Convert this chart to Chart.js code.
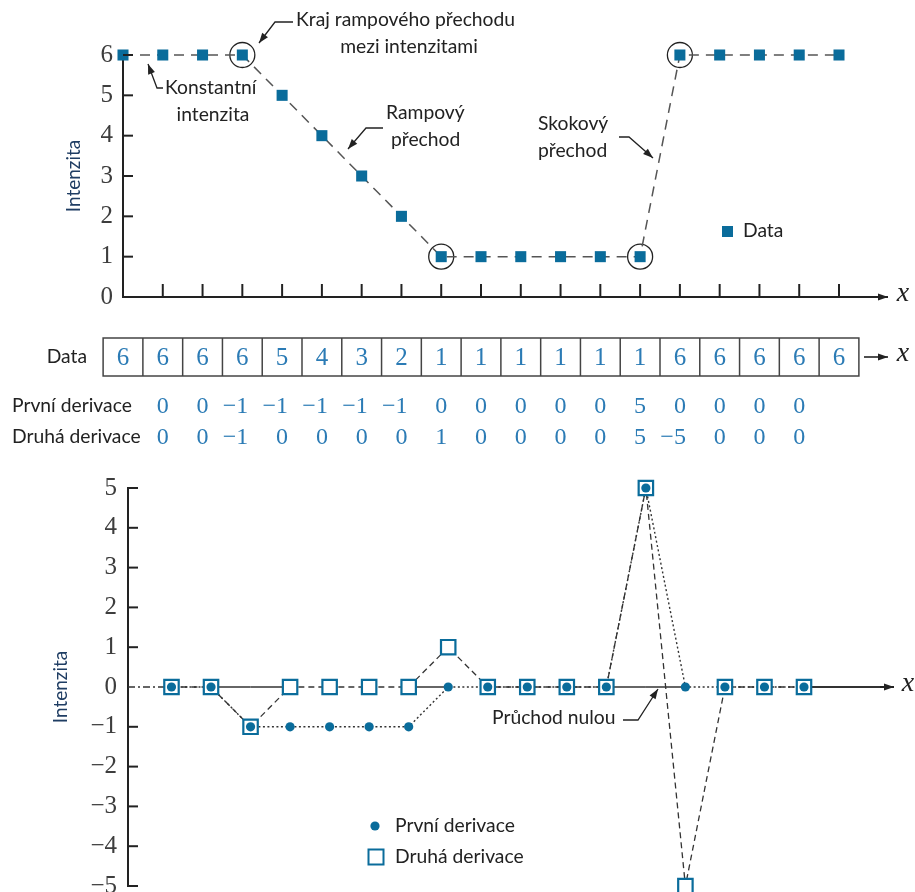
<!DOCTYPE html>
<html>
<head>
<meta charset="utf-8">
<script src="https://cdn.jsdelivr.net/npm/chart.js@4/dist/chart.umd.min.js"></script>
<style>
  html, body { margin: 0; padding: 0; background: #fff; overflow: hidden; }
  #wrap { position: relative; width: 915px; height: 892px; overflow: hidden; }
  #topChart { position: absolute; left: 0; top: 0; width: 915px; height: 460px; }
  #bottomChart { position: absolute; left: 0; top: 460px; width: 915px; height: 452px; }
</style>
</head>
<body>
<div id="wrap">
  <canvas id="topChart" width="915" height="460"></canvas>
  <canvas id="bottomChart" width="915" height="452"></canvas>
</div>
<script>
// Sample positions along x and the intensity profile
const columns = [0, 1, 2, 3, 4, 5, 6, 7, 8, 9, 10, 11, 12, 13, 14, 15, 16, 17, 18];
const intensity = [6, 6, 6, 6, 5, 4, 3, 2, 1, 1, 1, 1, 1, 1, 6, 6, 6, 6, 6];
// Samples marked with a circle (ends of the ramp, step)
const edgeColumns = [3, 8, 13, 14];

// Derivatives, defined for the inner samples
const derivColumns = [1, 2, 3, 4, 5, 6, 7, 8, 9, 10, 11, 12, 13, 14, 15, 16, 17];
const firstDerivative = [0, 0, -1, -1, -1, -1, -1, 0, 0, 0, 0, 0, 5, 0, 0, 0, 0];
const secondDerivative = [0, 0, -1, 0, 0, 0, 0, 1, 0, 0, 0, 0, 5, -5, 0, 0, 0];

// Axis tick values
const topTicks = [0, 1, 2, 3, 4, 5, 6];
const bottomTicks = [-5, -4, -3, -2, -1, 0, 1, 2, 3, 4, 5];

const BLUE = '#0a6c9b';
const NUM_BLUE = '#2b7bb5';
const INK = '#222';
const LINE_GRAY = '#555';
const SANS = 'Lato, "Open Sans", sans-serif';
const SERIF = '"Liberation Serif", "DejaVu Serif", serif';
const LABEL_FONT = '19.3px ' + SANS;

const fmt = v => String(v).replace('-', '\u2212');

function seg(ctx, x1, y1, x2, y2) {
  ctx.beginPath(); ctx.moveTo(x1, y1); ctx.lineTo(x2, y2); ctx.stroke();
}

// Polyline with a filled arrow head at its last point
function arrow(ctx, pts, width) {
  ctx.save();
  ctx.strokeStyle = INK; ctx.fillStyle = INK; ctx.lineWidth = width || 1.3;
  ctx.setLineDash([]);
  ctx.beginPath();
  ctx.moveTo(pts[0][0], pts[0][1]);
  for (let i = 1; i < pts.length; i++) ctx.lineTo(pts[i][0], pts[i][1]);
  ctx.stroke();
  const [tx, ty] = pts[pts.length - 1];
  const [px, py] = pts[pts.length - 2];
  const ang = Math.atan2(ty - py, tx - px);
  const L = 10, W = 3.6;
  ctx.beginPath();
  ctx.moveTo(tx, ty);
  ctx.lineTo(tx - L * Math.cos(ang) + W * Math.sin(ang), ty - L * Math.sin(ang) - W * Math.cos(ang));
  ctx.lineTo(tx - L * Math.cos(ang) - W * Math.sin(ang), ty - L * Math.sin(ang) + W * Math.cos(ang));
  ctx.closePath(); ctx.fill();
  ctx.restore();
}

function text(ctx, str, x, y, align, font, color) {
  ctx.save();
  ctx.font = font; ctx.fillStyle = color || INK;
  ctx.textAlign = align || 'left'; ctx.textBaseline = 'middle';
  ctx.fillText(str, x, y);
  ctx.restore();
}

// Signed number with its digits centred on the column
function numberAt(ctx, v, cx, y, font, color) {
  ctx.save();
  ctx.font = font; ctx.fillStyle = color; ctx.textBaseline = 'middle';
  const digits = String(Math.abs(v));
  const w = ctx.measureText(digits).width;
  ctx.textAlign = 'right';
  ctx.fillText(v < 0 ? '\u2212' + digits : digits, cx + w / 2, y);
  ctx.restore();
}

const topDecor = {
  id: 'topDecor',
  afterDraw(chart) {
    const { ctx, chartArea: a, scales: { x, y } } = chart;
    const y0 = y.getPixelForValue(0);
    ctx.save();
    ctx.strokeStyle = INK; ctx.lineWidth = 2;
    // x axis with arrow
    seg(ctx, a.left, y0, 880, y0);
    arrow(ctx, [[876, y0], [888, y0]], 2);
    columns.forEach(c => {
      if (c === 0) return;
      const px = x.getPixelForValue(c);
      seg(ctx, px, y0, px, y0 - 13);
    });
    topTicks.forEach(v => {
      if (v === 0) return;
      const py = y.getPixelForValue(v);
      seg(ctx, a.left, py, a.left + 10, py);
    });
    ctx.restore();
    text(ctx, 'x', 903, y0 - 3, 'center', 'italic 28px ' + SERIF, INK);

    // Annotations
    const f = LABEL_FONT;
    text(ctx, 'Kraj rampového přechodu', 296, 20, 'left', f);
    text(ctx, 'mezi intenzitami', 409, 47, 'center', f);
    arrow(ctx, [[293, 22], [275, 22], [259, 43]]);
    text(ctx, 'Konstantní', 165, 88, 'left', f);
    text(ctx, 'intenzita', 213, 115, 'center', f);
    arrow(ctx, [[163, 88], [157, 88], [148, 64]]);
    text(ctx, 'Rampový', 386, 113, 'left', f);
    text(ctx, 'přechod', 391, 140, 'left', f);
    arrow(ctx, [[383, 128], [366, 128], [348, 149]]);
    text(ctx, 'Skokový', 538, 124, 'left', f);
    text(ctx, 'přechod', 538, 151, 'left', f);
    arrow(ctx, [[619, 137], [629, 137], [653, 158]]);

    // Legend
    ctx.save();
    ctx.fillStyle = BLUE;
    ctx.fillRect(722, 226, 11, 11);
    ctx.restore();
    text(ctx, 'Data', 743, 231, 'left', f);

    // Data table under the plot, one cell per sample
    const half = (x.getPixelForValue(1) - x.getPixelForValue(0)) / 2;
    const rowTop = 338, rowBot = 376, rowMid = (rowTop + rowBot) / 2;
    ctx.save();
    ctx.strokeStyle = '#444'; ctx.lineWidth = 1.5;
    const x0 = x.getPixelForValue(columns[0]) - half;
    const x1 = x.getPixelForValue(columns[columns.length - 1]) + half;
    ctx.strokeRect(x0, rowTop, x1 - x0, rowBot - rowTop);
    columns.forEach((c, i) => {
      if (i === 0) return;
      const bx = x.getPixelForValue(c) - half;
      seg(ctx, bx, rowTop, bx, rowBot);
    });
    ctx.restore();
    columns.forEach((c, i) => {
      numberAt(ctx, intensity[i], x.getPixelForValue(c), rowMid + 1, '25px ' + SERIF, NUM_BLUE);
    });
    text(ctx, 'Data', 87, rowMid, 'right', f);
    arrow(ctx, [[864, rowMid], [888, rowMid]], 1.6);
    text(ctx, 'x', 903, rowMid - 3, 'center', 'italic 28px ' + SERIF, INK);

    // Derivative rows
    text(ctx, 'První derivace', 12, 406, 'left', f);
    text(ctx, 'Druhá derivace', 12, 437, 'left', f);
    derivColumns.forEach((c, i) => {
      const px = x.getPixelForValue(c);
      numberAt(ctx, firstDerivative[i], px, 407, '24px ' + SERIF, NUM_BLUE);
      numberAt(ctx, secondDerivative[i], px, 438, '24px ' + SERIF, NUM_BLUE);
    });
  }
};

const bottomDecor = {
  id: 'bottomDecor',
  beforeDatasetsDraw(chart) {
    const { ctx, chartArea: a, scales: { x, y } } = chart;
    const y0 = y.getPixelForValue(0);
    ctx.save();
    ctx.strokeStyle = '#333'; ctx.lineWidth = 1.4;
    // Lead-in from the axis to the first sample
    ctx.setLineDash([7, 3, 2, 3]);
    seg(ctx, a.left, y0, x.getPixelForValue(derivColumns[0]), y0);
    ctx.setLineDash([]);
    // Solid zero axis only where no derivative runs along it
    for (let k = 0; k < derivColumns.length - 1; k++) {
      const along = arr => arr[k] === 0 && arr[k + 1] === 0;
      if (!along(firstDerivative) && !along(secondDerivative)) {
        seg(ctx, x.getPixelForValue(derivColumns[k]), y0, x.getPixelForValue(derivColumns[k + 1]), y0);
      }
    }
    ctx.lineWidth = 2;
    seg(ctx, x.getPixelForValue(derivColumns[derivColumns.length - 1]), y0, 885, y0);
    ctx.restore();
    arrow(ctx, [[880, y0], [894, y0]], 2);
  },
  afterDraw(chart) {
    const { ctx, chartArea: a, scales: { x, y } } = chart;
    const y0 = y.getPixelForValue(0);
    ctx.save();
    ctx.strokeStyle = INK; ctx.lineWidth = 2;
    bottomTicks.forEach(v => {
      if (v === 0) return;
      const py = y.getPixelForValue(v);
      seg(ctx, a.left, py, a.left + 10, py);
    });
    ctx.restore();
    text(ctx, 'x', 908, y0 - 3, 'center', 'italic 28px ' + SERIF, INK);

    const f = LABEL_FONT;
    text(ctx, 'Průchod nulou', 492, 258, 'left', f);
    arrow(ctx, [[623, 260], [638, 260], [658, 229]]);

    // Legend
    ctx.save();
    ctx.fillStyle = BLUE;
    ctx.beginPath(); ctx.arc(375, 366, 4.6, 0, Math.PI * 2); ctx.fill();
    ctx.strokeStyle = BLUE; ctx.lineWidth = 2;
    ctx.strokeRect(368.5, 389.5, 15, 15);
    ctx.restore();
    text(ctx, 'První derivace', 395, 366, 'left', f);
    text(ctx, 'Druhá derivace', 395, 397, 'left', f);
  }
};

const yAxisCommon = (ticksArr, width, labelPad, titlePad) => ({
  afterBuildTicks: s => { s.ticks = ticksArr.map(v => ({ value: v })); },
  afterFit: s => { s.width = width; },
  grid: { display: false, drawTicks: false },
  border: { display: true, color: INK, width: 2 },
  ticks: {
    padding: labelPad,
    color: '#3d3d3d',
    font: { family: '"Liberation Serif", serif', size: 25 },
    callback: v => fmt(v)
  },
  title: {
    display: true, text: 'Intenzita', color: '#1f3d63',
    font: { family: 'Lato, "Open Sans", sans-serif', size: 19 },
    padding: { top: titlePad, bottom: 0 }
  }
});

Chart.defaults.devicePixelRatio = 1;

new Chart(document.getElementById('topChart'), {
  type: 'line',
  data: {
    datasets: [
      {
        label: 'Data',
        data: columns.map((c, i) => ({ x: c, y: intensity[i] })),
        borderColor: LINE_GRAY, borderWidth: 1.5, borderDash: [10, 7],
        pointStyle: 'rect', pointRadius: 7.8, pointBorderWidth: 0,
        pointBackgroundColor: BLUE, backgroundColor: BLUE,
        tension: 0, clip: false
      },
      {
        label: 'Okraje',
        data: edgeColumns.map(c => ({ x: c, y: intensity[columns.indexOf(c)] })),
        showLine: false,
        pointStyle: 'circle', pointRadius: 12.5,
        pointBorderColor: INK, pointBorderWidth: 1.3,
        pointBackgroundColor: 'rgba(0,0,0,0)',
        clip: false
      }
    ]
  },
  options: {
    responsive: false, animation: false,
    layout: { padding: { top: 55, bottom: 163, right: 76, left: 0 } },
    plugins: { legend: { display: false }, tooltip: { enabled: false } },
    scales: {
      x: { type: 'linear', min: 0, max: 18, display: false },
      y: Object.assign({ min: 0, max: 6 }, yAxisCommon(topTicks, 123, 10, 62))
    }
  },
  plugins: [topDecor]
});

// Datasets listed first are drawn on top: dots, then squares, then the lines
new Chart(document.getElementById('bottomChart'), {
  type: 'line',
  data: {
    datasets: [
      {
        label: 'První derivace',
        data: derivColumns.map((c, i) => ({ x: c, y: firstDerivative[i] })),
        showLine: false,
        pointStyle: 'circle', pointRadius: 4.6,
        pointBackgroundColor: BLUE, pointBorderWidth: 0,
        clip: false
      },
      {
        label: 'Druhá derivace',
        data: derivColumns.map((c, i) => ({ x: c, y: secondDerivative[i] })),
        showLine: false,
        pointStyle: 'rect', pointRadius: 10.2,
        pointBackgroundColor: '#fff', pointBorderColor: BLUE, pointBorderWidth: 2.2,
        clip: false
      },
      {
        label: 'První derivace (čára)',
        data: derivColumns.map((c, i) => ({ x: c, y: firstDerivative[i] })),
        borderColor: '#333', borderWidth: 1.4, borderDash: [2, 2.5],
        pointRadius: 0, tension: 0, clip: false
      },
      {
        label: 'Druhá derivace (čára)',
        data: derivColumns.map((c, i) => ({ x: c, y: secondDerivative[i] })),
        borderColor: '#333', borderWidth: 1.3, borderDash: [6, 4],
        pointRadius: 0, tension: 0, clip: false
      }
    ]
  },
  options: {
    responsive: false, animation: false,
    layout: { padding: { top: 28, bottom: 25, right: 111, left: 0 } },
    plugins: { legend: { display: false }, tooltip: { enabled: false } },
    scales: {
      x: { type: 'linear', min: -0.1, max: 17, display: false },
      y: Object.assign({ min: -5, max: 5 }, yAxisCommon(bottomTicks, 128, 11, 49))
    }
  },
  plugins: [bottomDecor]
});
</script>
</body>
</html>
